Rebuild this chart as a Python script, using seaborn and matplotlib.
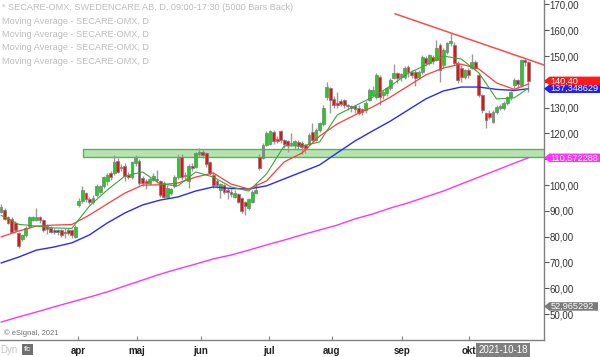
import matplotlib
matplotlib.use("Agg")
import matplotlib.pyplot as plt
import seaborn as sns
import numpy as np
import pandas as pd
from matplotlib.patches import Rectangle, Polygon
from matplotlib.transforms import blended_transform_factory

# ---------------- data ----------------
opens = [89.6, 90.5, 87.5, 87.0, 85.5, 81.5, 79.0, 80.7, 84.0, 86.5,
         86.5, 87.5, 86.5, 84.0, 83.5, 82.5, 82.6, 82.6, 82.0, 82.6,
         82.6, 80.0, 92.3, 94.0, 97.0, 94.5, 93.5, 96.0, 97.5, 99.5,
         101.5, 104.5, 104.5, 109.5, 106.5, 107.5, 104.0, 103.0, 108.5, 109.5,
         102.7, 101.5, 101.0, 102.0, 102.5, 101.5, 101.0, 95.5, 97.0, 99.5,
         103.0, 111.0, 104.0, 101.5, 107.5, 107.0, 112.0, 113.0, 112.5, 109.0,
         104.0, 101.5, 98.0, 100.0, 98.0, 97.5, 95.5, 96.5, 95.0, 93.5,
         91.0, 93.5, 97.0, 111.0, 110.5, 115.5, 116.0, 120.5, 118.0, 121.0,
         117.5, 117.0, 116.0, 115.5, 116.8, 116.5, 115.5, 116.0, 120.5, 117.5,
         121.3, 123.5, 134.0, 137.6, 133.5, 132.0, 132.5, 133.0, 131.0, 130.5,
         130.5, 130.0, 129.5, 129.0, 133.0, 135.0, 134.0, 142.0, 135.0, 135.7,
         137.6, 141.5, 143.4, 142.0, 142.0, 145.8, 143.8, 143.8, 142.0, 144.0,
         149.3, 147.3, 149.5, 148.5, 154.3, 146.5, 151.6, 155.0, 154.3, 147.3,
         145.4, 142.0, 144.6, 145.4, 147.7, 142.7, 135.0, 128.0, 128.0, 124.5,
         128.3, 130.0, 130.0, 131.8, 134.0, 138.8, 140.7, 138.8, 148.5, 147.7]
closes = [91.5, 87.0, 85.5, 82.0, 82.5, 76.5, 80.6, 83.4, 87.6, 87.5,
          87.5, 86.5, 82.6, 83.0, 82.0, 82.0, 81.8, 80.7, 81.5, 81.5,
          80.5, 83.8, 94.0, 98.0, 94.5, 93.5, 95.0, 99.5, 99.5, 103.0,
          104.0, 103.0, 109.0, 105.0, 107.0, 103.5, 103.3, 109.0, 110.5, 101.0,
          101.0, 101.0, 102.5, 103.5, 102.0, 96.0, 95.5, 99.0, 98.5, 103.0,
          110.5, 103.0, 103.5, 107.5, 106.5, 112.5, 113.0, 111.7, 108.0, 104.5,
          100.0, 100.0, 100.5, 97.5, 97.5, 96.5, 97.0, 93.5, 90.0, 92.0,
          94.5, 97.5, 98.0, 106.5, 115.6, 120.0, 121.0, 117.0, 117.0, 117.5,
          116.0, 115.6, 116.5, 117.0, 115.0, 114.8, 114.5, 119.4, 117.5, 121.4,
          124.0, 130.0, 138.0, 133.0, 131.0, 131.0, 131.5, 131.0, 130.5, 130.0,
          129.5, 128.0, 128.3, 132.0, 137.0, 137.0, 142.7, 134.0, 136.0, 137.6,
          140.7, 143.4, 141.5, 143.0, 145.3, 143.8, 142.7, 141.5, 143.8, 149.7,
          147.3, 150.4, 148.0, 153.2, 144.6, 152.4, 155.0, 156.0, 147.3, 140.7,
          141.9, 144.5, 142.7, 147.7, 145.4, 135.0, 129.0, 125.3, 126.5, 128.3,
          130.3, 130.7, 132.0, 134.1, 136.0, 140.7, 139.0, 148.5, 147.7, 140.4]
highs = [92.5, 91.0, 88.0, 87.5, 86.0, 82.0, 81.0, 84.0, 88.0, 88.0,
         91.0, 88.0, 87.0, 85.0, 84.0, 83.5, 83.0, 83.0, 83.5, 83.5,
         83.0, 84.5, 95.0, 99.5, 97.5, 95.5, 96.0, 100.5, 100.0, 103.5,
         104.5, 105.5, 111.5, 110.5, 108.0, 108.5, 105.0, 109.5, 111.5, 110.0,
         103.5, 102.5, 103.0, 104.5, 106.0, 102.0, 101.5, 100.0, 99.0, 104.0,
         112.0, 112.0, 105.0, 108.0, 108.5, 113.0, 114.2, 113.8, 113.0, 109.5,
         105.0, 102.5, 101.0, 100.5, 99.0, 98.5, 98.0, 97.0, 95.5, 94.0,
         95.0, 98.0, 101.0, 112.0, 116.5, 121.0, 121.5, 121.5, 119.0, 121.5,
         118.0, 117.5, 120.0, 117.5, 117.5, 117.0, 116.0, 120.0, 124.0, 122.0,
         124.5, 131.0, 140.0, 138.0, 134.5, 136.0, 133.5, 133.5, 131.5, 131.0,
         131.0, 131.0, 130.0, 132.5, 137.5, 138.5, 143.5, 142.5, 137.0, 138.0,
         141.5, 147.0, 144.0, 143.5, 146.0, 146.5, 144.5, 144.5, 144.5, 150.5,
         150.0, 151.0, 150.5, 156.2, 155.0, 153.0, 155.5, 159.0, 155.5, 148.0,
         146.5, 145.0, 145.5, 151.0, 148.5, 143.5, 135.5, 128.5, 129.0, 129.0,
         131.0, 131.5, 132.5, 134.5, 136.5, 141.5, 141.0, 149.0, 149.0, 148.0]
lows = [89.0, 86.5, 85.0, 81.5, 82.0, 75.5, 78.5, 80.0, 83.5, 86.0,
        86.0, 85.5, 82.0, 81.0, 81.5, 81.0, 80.5, 80.0, 79.5, 80.5,
        79.5, 79.5, 91.5, 93.0, 93.5, 92.5, 92.5, 95.5, 96.5, 99.0,
        100.0, 102.0, 104.0, 104.5, 105.5, 101.5, 102.5, 102.5, 107.5, 100.0,
        99.5, 98.5, 100.0, 101.5, 101.0, 95.5, 95.0, 95.0, 96.0, 99.0,
        102.5, 102.0, 102.5, 99.0, 105.5, 106.5, 111.0, 110.5, 107.0, 104.0,
        99.0, 99.0, 95.0, 96.5, 94.5, 95.5, 95.0, 93.0, 89.0, 88.5,
        90.5, 93.0, 96.5, 106.0, 110.0, 115.0, 115.5, 116.0, 116.5, 116.5,
        114.5, 113.0, 115.0, 114.0, 114.0, 112.0, 112.5, 115.5, 117.0, 117.0,
        120.5, 123.0, 133.0, 128.0, 130.0, 130.0, 130.5, 130.0, 129.0, 128.5,
        128.0, 127.0, 127.0, 128.0, 132.5, 134.5, 133.5, 131.0, 133.5, 134.5,
        137.0, 141.0, 139.5, 140.5, 141.0, 142.0, 141.5, 138.5, 141.0, 143.0,
        146.0, 146.5, 147.0, 148.0, 140.0, 145.5, 151.0, 154.0, 146.5, 139.5,
        140.0, 141.0, 141.5, 145.0, 144.5, 134.0, 128.0, 122.0, 125.5, 124.0,
        127.5, 129.0, 129.0, 131.0, 133.0, 137.5, 137.5, 138.0, 146.0, 136.0]

# moving averages, read at every 5th bar (and the last bar)
ma_bars = list(range(0, 150, 5)) + [149]
ma_fast = [88.3, 84.8, 84.1, 83.4, 83.2, 91.9, 98.1, 103.5, 105.1, 100.4,
           99.7, 105.1, 103.1, 99.3, 97.7, 104.3, 115.2, 115.2, 116.7, 127.2,
           130.7, 134.1, 138.4, 143.3, 146.5, 150.0, 148.9, 143.5, 133.4, 133.8, 137.6]
ma_mid = [79.9, 82.2, 84.1, 84.5, 84.7, 88.4, 92.7, 96.9, 100.0, 100.1,
          100.8, 103.1, 104.7, 100.4, 98.5, 101.6, 109.0, 112.4, 119.0, 123.7,
          127.2, 130.3, 134.1, 138.4, 142.7, 145.4, 146.9, 145.0, 139.6, 137.1, 139.2]
ma_slow = [69.8, 72.1, 74.8, 76.0, 77.6, 80.7, 85.3, 89.2, 92.3, 94.2,
           95.4, 97.7, 99.3, 98.7, 98.5, 99.7, 102.4, 105.1, 107.8, 112.5,
           117.1, 121.0, 124.8, 129.1, 133.4, 136.5, 138.0, 138.0, 137.1, 136.7, 137.348629]
ma_long = [46.9, 48.9, 50.8, 52.8, 54.7, 56.6, 58.6, 60.9, 63.2, 65.5,
           67.5, 69.4, 71.4, 72.9, 74.8, 76.8, 78.7, 80.7, 82.6, 84.5,
           86.9, 88.8, 91.1, 93.1, 95.4, 97.7, 100.4, 103.1, 105.8, 108.5, 110.572288]

month_labels = ["apr", "maj", "jun", "jul", "aug", "sep", "okt"]
month_pos = [21.75, 38.4, 56.5, 75.7, 93.5, 113.3, 132.2]

zone_low, zone_high, zone_start = 110.9, 113.9, 23.2
trend_bars = [127, 148]
trend_prices = [159.0, 149.1]
trend_start = 111.3

y_ticks = list(range(50, 171, 10))
hidden_tick_labels = [110, 140]   # covered by value tags in the reference
extra_value = 52.965292
last_date = "2021-10-18"

header = "* SECARE-OMX, SWEDENCARE AB, D, 09:00-17:30 (5000 Bars Back)"
ma_title = "Moving Average - SECARE-OMX, D"

# ---------------- figure ----------------
sns.set_theme(style="white")
plt.rcParams['font.family'] = ['Liberation Sans', 'DejaVu Sans']

W, H = 600, 357
fig = plt.figure(figsize=(W / 100, H / 100), dpi=100)
fig.patch.set_facecolor("white")
ax = fig.add_axes([0, 17 / H, 544 / W, 340 / H])
ax.set_facecolor("white")

xmin, xmax = -0.28, 153.4
ymin, ymax = 39.96, 171.74
ax.set_xlim(xmin, xmax)
ax.set_ylim(ymin, ymax)

# support zone
ax.add_patch(Rectangle((zone_start, zone_low), xmax - zone_start + 1, zone_high - zone_low,
                       facecolor="#b0e0aa", edgecolor="#45b045", linewidth=1.0,
                       alpha=0.9, zorder=1))

# candles
o = np.array(opens); c = np.array(closes)
h = np.array(highs); l = np.array(lows)
xs = np.arange(len(c))
ax.vlines(xs, l, h, color="#9a9a9a", linewidth=1.0, zorder=2)
up = c >= o
body_bottom = np.minimum(o, c)
body_height = np.maximum(np.abs(c - o), 0.35)
colors = np.where(up, "#14d614", "#ec1111")
ax.bar(xs, body_height, bottom=body_bottom, width=0.8, color=colors,
       edgecolor="#808080", linewidth=0.55, zorder=3)

# moving averages via seaborn
df = pd.DataFrame({"bar": ma_bars, "fast": ma_fast, "mid": ma_mid,
                   "slow": ma_slow, "long": ma_long})
sns.lineplot(data=df, x="bar", y="long", color="#ff33ff", linewidth=1.0, ax=ax, zorder=4)
sns.lineplot(data=df, x="bar", y="slow", color="#2b2bf0", linewidth=1.0, ax=ax, zorder=4)
sns.lineplot(data=df, x="bar", y="mid", color="#ff3b3b", linewidth=0.9, ax=ax, zorder=4)
sns.lineplot(data=df, x="bar", y="fast", color="#35a835", linewidth=0.8, ax=ax, zorder=4)

# resistance trend line
slope = (trend_prices[1] - trend_prices[0]) / (trend_bars[1] - trend_bars[0])
tx = np.array([trend_start, xmax + 1])
ty = trend_prices[0] + slope * (tx - trend_bars[0])
ax.plot(tx, ty, color="#ff4a4a", linewidth=1.1, zorder=4)

# axes styling
for s in ["left", "top"]:
    ax.spines[s].set_visible(False)
for s in ["right", "bottom"]:
    ax.spines[s].set_visible(True)
    ax.spines[s].set_color("#808080")
    ax.spines[s].set_linewidth(1.0)
ax.yaxis.tick_right()
ax.set_yticks(y_ticks)
ax.set_yticklabels(["" if v in hidden_tick_labels else f"{v:.2f}".replace(".", ",")
                    for v in y_ticks])
ax.tick_params(axis="y", right=True, left=False, direction="out", length=3.5, width=0.8,
               color="#555555", labelsize=7, labelcolor="#333333", pad=0.5)
ax.set_xticks(month_pos)
ax.set_xticklabels(month_labels, fontweight="bold")
ax.tick_params(axis="x", bottom=True, direction="in", length=3, width=0.8,
               color="#808080", labelsize=7, labelcolor="#222222", pad=4)
ax.set_xlabel("")
ax.set_ylabel("")
ax.grid(False)

# value tags on the right price axis
btr = blended_transform_factory(ax.transAxes, ax.transData)
right_edge = W / 544.0


def tag(value, face, text, txtcolor="white", half=1.65, end=None):
    end = right_edge if end is None else end
    pts = [(1.0, value), (1.01, value + half), (end, value + half),
           (end, value - half), (1.01, value - half)]
    ax.add_patch(Polygon(pts, closed=True, facecolor=face, edgecolor="none",
                         transform=btr, clip_on=False, zorder=10))
    ax.text(1.012, value, text, transform=btr, color=txtcolor, fontsize=6.6,
            va="center", ha="left", clip_on=False, zorder=11)


def fmt(v, d):
    return f"{v:.{d}f}".replace(".", ",")


tag(ma_slow[-1], "#1f1fff", fmt(ma_slow[-1], 6))
tag(closes[-1], "#ff1a1a", fmt(closes[-1], 2))
tag(ma_long[-1], "#ff33ff", fmt(ma_long[-1], 6))
tag(extra_value, "#7a7a7a", fmt(extra_value, 6), end=598 / 544.0)

# header texts
fig.text(2 / W, 1 - 7.5 / H, header, fontsize=6.6, color="#bdbdbd", va="center", ha="left")
for k in range(4):
    fig.text(2 / W, 1 - (21 + 13.5 * k) / H, ma_title, fontsize=6.6, color="#bdbdbd",
             va="center", ha="left")

# footer texts
fig.text(4 / W, 1 - 333 / H, "\u00a9 eSignal, 2021", fontsize=5.5, color="#707070",
         va="center", ha="left")
fig.text(0, 1 - 350 / H, "Dyn", fontsize=7, color="#c4c4c4", va="center", ha="left")
fig.text(27.5 / W, 1 - 349.5 / H, "fc", fontsize=6, color="#dddddd", va="center",
         ha="center", fontweight="bold",
         bbox=dict(boxstyle="square,pad=0.25", facecolor="#707070", edgecolor="none"))
fig.text(503 / W, 1 - 350 / H, last_date, fontsize=7, color="white", va="center",
         ha="center",
         bbox=dict(boxstyle="square,pad=0.2", facecolor="#7f7f7f", edgecolor="none"))

fig.savefig("out.png", dpi=100, facecolor="white")
